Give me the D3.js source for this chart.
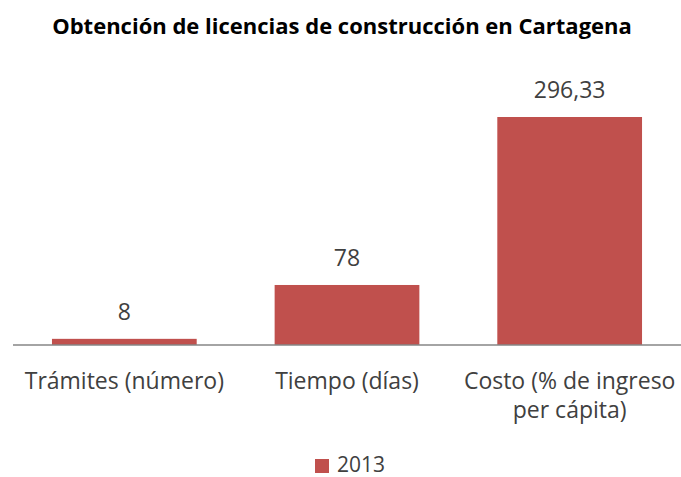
<!DOCTYPE html>
<html>
<head>
<meta charset="utf-8">
<script src="https://cdn.jsdelivr.net/npm/d3@7"></script>
<style>
  body { margin: 0; background: #fff; }
  svg { display: block; font-family: "Open Sans", "DejaVu Sans", sans-serif; }
</style>
</head>
<body>
<svg id="chart" width="681" height="477"></svg>
<script>
var categories = ["Trámites (número)", "Tiempo (días)", "Costo (% de ingreso per cápita)"];
var categoryLines = [["Trámites (número)"], ["Tiempo (días)"], ["Costo (% de ingreso", "per cápita)"]];
var values = [8, 78, 296.33];
var valueLabels = ["8", "78", "296,33"];
var seriesName = "2013";

var width = 681, height = 477;
var margin = {left: 13, right: 0, top: 117, bottom: 132};
var barColor = "#c0504d";
var textColor = "#404040";

var svg = d3.select("#chart");

svg.append("text")
  .attr("x", 342).attr("y", 34)
  .attr("text-anchor", "middle")
  .attr("font-size", 22)
  .attr("font-weight", "bold")
  .attr("fill", "#000")
  .text("Obtención de licencias de construcción en Cartagena");

var x = d3.scaleBand()
  .domain(categories)
  .range([margin.left, width - margin.right])
  .paddingInner(0.35)
  .paddingOuter(0.175);

var y = d3.scaleLinear()
  .domain([0, d3.max(values)])
  .range([height - margin.bottom, margin.top]);

// bars
svg.selectAll(".bar")
  .data(values)
 .enter().append("rect")
  .attr("class", "bar")
  .attr("x", (d, i) => x(categories[i]))
  .attr("width", x.bandwidth())
  .attr("y", d => y(d))
  .attr("height", d => y(0) - y(d))
  .attr("fill", barColor);

// baseline
svg.append("line")
  .attr("x1", margin.left).attr("x2", width - margin.right)
  .attr("y1", y(0)).attr("y2", y(0))
  .attr("stroke", "#868686")
  .attr("stroke-width", 1.5);

// value labels
svg.selectAll(".val")
  .data(values)
 .enter().append("text")
  .attr("class", "val")
  .attr("x", (d, i) => x(categories[i]) + x.bandwidth() / 2)
  .attr("y", d => y(d) - 19)
  .attr("text-anchor", "middle")
  .attr("font-size", 23)
  .attr("fill", textColor)
  .text((d, i) => valueLabels[i]);

// category labels
svg.selectAll(".cat")
  .data(categories)
 .enter().append("text")
  .attr("class", "cat")
  .attr("x", d => x(d) + x.bandwidth() / 2)
  .attr("y", y(0) + 44)
  .attr("text-anchor", "middle")
  .attr("font-size", 23)
  .attr("fill", textColor)
  .each(function(d, i) {
    var t = d3.select(this);
    categoryLines[i].forEach(function(line, j) {
      t.append("tspan")
        .attr("x", x(d) + x.bandwidth() / 2)
        .attr("dy", j === 0 ? 0 : 29)
        .text(line);
    });
  });

// legend
var legend = svg.append("g").attr("transform", "translate(315,459)");
legend.append("rect")
  .attr("width", 14).attr("height", 14)
  .attr("fill", barColor);
legend.append("text")
  .attr("x", 22).attr("y", 13)
  .attr("font-size", 21)
  .attr("fill", textColor)
  .text(seriesName);
</script>
</body>
</html>
